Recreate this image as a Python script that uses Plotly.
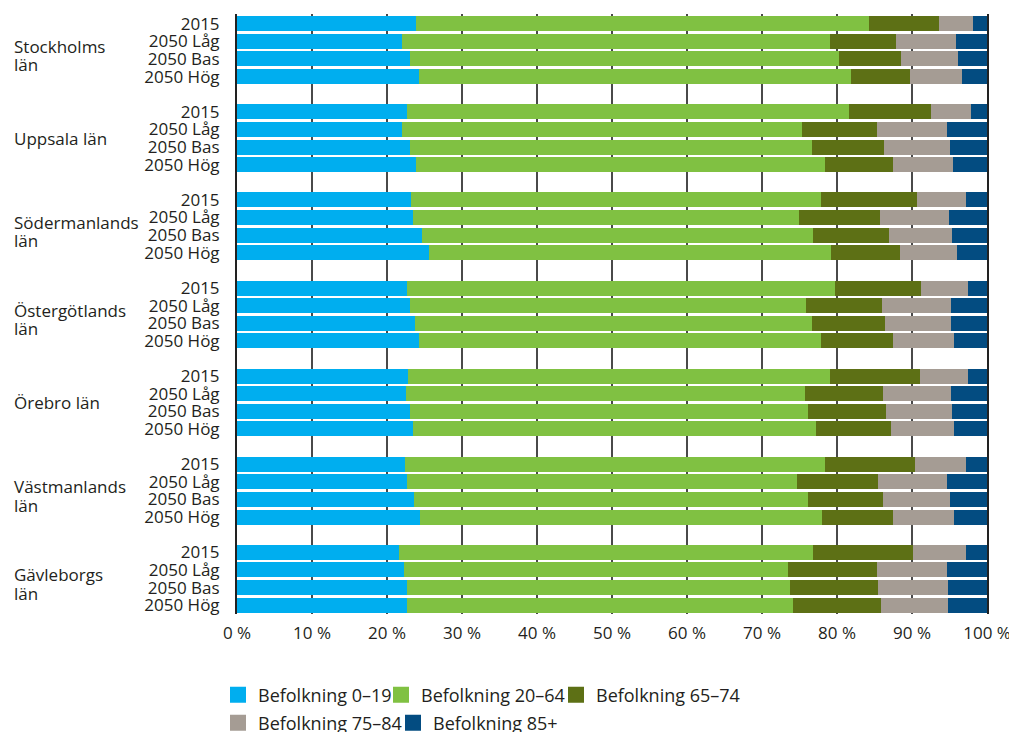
import plotly.graph_objects as go

regions = ["Stockholms<br>län", "Uppsala län", "Södermanlands<br>län", "Östergötlands<br>län",
           "Örebro län", "Västmanlands<br>län", "Gävleborgs<br>län"]
scenarios = ["2015", "2050 Låg", "2050 Bas", "2050 Hög"]
series_names = ["Befolkning 0–19", "Befolkning 20–64", "Befolkning 65–74",
                "Befolkning 75–84", "Befolkning 85+"]
x_ticks = [0, 10, 20, 30, 40, 50, 60, 70, 80, 90, 100]

# shares (%) per region, per scenario (2015, Låg, Bas, Hög)
age_0_19 = [
    [23.9, 22.0, 23.1, 24.3],
    [22.7, 22.0, 23.1, 23.9],
    [23.2, 23.5, 24.7, 25.6],
    [22.7, 23.1, 23.7, 24.3],
    [22.8, 22.5, 23.1, 23.5],
    [22.4, 22.7, 23.6, 24.4],
    [21.6, 22.3, 22.7, 22.7],
]
age_20_64 = [
    [60.4, 57.1, 57.2, 57.6],
    [58.9, 53.3, 53.6, 54.5],
    [54.7, 51.4, 52.1, 53.6],
    [57.0, 52.8, 53.0, 53.6],
    [56.3, 53.2, 53.0, 53.7],
    [56.0, 52.0, 52.5, 53.6],
    [55.2, 51.2, 51.0, 51.4],
]
age_65_74 = [
    [9.3, 8.8, 8.2, 7.8],
    [10.9, 10.0, 9.6, 9.1],
    [12.8, 10.8, 10.1, 9.2],
    [11.5, 10.1, 9.7, 9.6],
    [12.0, 10.4, 10.4, 10.0],
    [12.0, 10.8, 10.0, 9.5],
    [13.3, 11.8, 11.8, 11.8],
]
age_75_84 = [
    [4.5, 8.0, 7.6, 7.0],
    [5.4, 9.4, 8.8, 8.0],
    [6.5, 9.2, 8.4, 7.6],
    [6.3, 9.2, 8.8, 8.1],
    [6.4, 9.1, 8.8, 8.4],
    [6.8, 9.2, 9.0, 8.1],
    [7.1, 9.4, 9.3, 8.9],
]
age_85 = [
    [1.9, 4.1, 3.9, 3.3],
    [2.1, 5.3, 4.9, 4.5],
    [2.8, 5.1, 4.7, 4.0],
    [2.5, 4.8, 4.8, 4.4],
    [2.5, 4.8, 4.7, 4.4],
    [2.8, 5.3, 4.9, 4.4],
    [2.8, 5.3, 5.2, 5.2],
]
series_values = [age_0_19, age_20_64, age_65_74, age_75_84, age_85]
colors = ["#00AEEF", "#80C142", "#5D7015", "#A59C94", "#034C81"]

FONT = "Open Sans"
TXT = "#231f20"
W, H = 1009, 732

# positions: 4 bars per region + one blank slot
ypos, ylab = [], []
for g in range(len(regions)):
    for s, sc in enumerate(scenarios):
        ypos.append(g * 5 + s)
        ylab.append(sc)

fig = go.Figure()
for name, vals, col in zip(series_names, series_values, colors):
    flat = [v for row in vals for v in row]
    fig.add_trace(go.Bar(
        x=flat, y=ypos, orientation="h", marker=dict(color=col, line=dict(width=0)),
        width=0.85, name=name, showlegend=False, hoverinfo="x+name"))

# legend entries, one small legend per entry (two wrapped rows as in the original)
legend_ids = ["legend", "legend2", "legend3", "legend4", "legend5"]
legend_pos = [(218, 695), (381, 695), (556, 695), (218, 723), (393, 723)]  # px
for name, col, lid in zip(series_names, colors, legend_ids):
    fig.add_trace(go.Scatter(
        x=[None], y=[None], mode="markers", name=name,
        marker=dict(symbol="square", size=16, color=col), legend=lid))

# region labels (two-line names get tighter line spacing, as in the original)
for g, r in enumerate(regions):
    lines = r.split("<br>")
    shifts = [0] if len(lines) == 1 else [4, -14.5]
    for line, ys in zip(lines, shifts):
        fig.add_annotation(x=-0.3, xref="paper", y=g * 5 + 1.5, yref="y", text=line,
                           yshift=ys, showarrow=False, xanchor="left", yanchor="middle",
                           align="left", font=dict(family=FONT, size=17, color=TXT))

legends = {}
for lid, (px, py) in zip(legend_ids, legend_pos):
    legends[lid] = dict(orientation="h", xref="container", yref="container",
                        x=px / W, y=(H - py) / H, xanchor="left", yanchor="middle",
                        font=dict(family=FONT, size=18, color=TXT), itemwidth=30,
                        bgcolor="rgba(0,0,0,0)")

fig.update_layout(
    width=W, height=H,
    margin=dict(l=237, r=22, t=14, b=118, autoexpand=False),
    barmode="stack", bargap=0,
    plot_bgcolor="white", paper_bgcolor="white",
    font=dict(family=FONT, size=17, color=TXT),
    xaxis=dict(range=[0, 100], tickmode="array", tickvals=x_ticks,
               ticktext=[f"{t} %" for t in x_ticks], showgrid=True,
               gridcolor="#4a4a4a", gridwidth=1.5, zeroline=False, showline=False,
               tickfont=dict(size=17, color=TXT), ticks="", ticklabelstandoff=7,
               ticklabeloverflow="allow", automargin=False, fixedrange=True),
    yaxis=dict(range=[33.5, -0.55], tickmode="array", tickvals=ypos, ticktext=ylab,
               showgrid=False, zeroline=False, showline=True, linecolor="#222",
               linewidth=2, mirror=True, ticks="", ticklabelstandoff=12,
               tickfont=dict(size=17, color=TXT), automargin=False, fixedrange=True),
    **legends,
)

fig.write_html("out.html", config={"displayModeBar": False},
               post_script="document.body.style.margin='0';document.body.style.overflow='hidden';")
